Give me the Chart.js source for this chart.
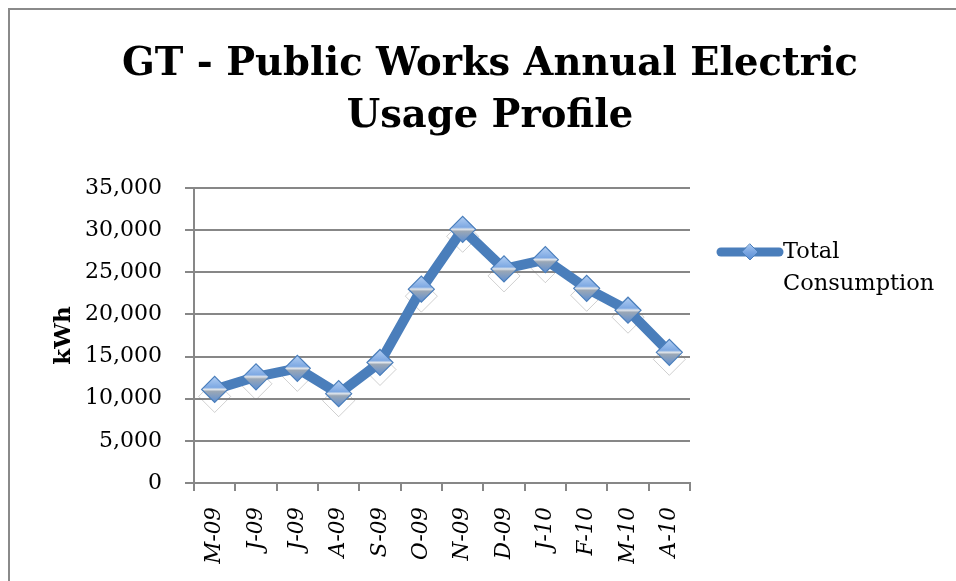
<!DOCTYPE html>
<html>
<head>
<meta charset="utf-8">
<script src="https://cdn.jsdelivr.net/npm/chart.js@4.4.0/dist/chart.umd.min.js"></script>
<style>
  html, body { margin: 0; padding: 0; background: #ffffff; }
  #wrap { position: relative; width: 956px; height: 581px; overflow: hidden; }
  canvas { display: block; }
</style>
</head>
<body>
<div id="wrap"><canvas id="c" width="956" height="581"></canvas></div>
<script>
const categories = ['M-09','J-09','J-09','A-09','S-09','O-09','N-09','D-09','J-10','F-10','M-10','A-10'];
const consumption = [11100, 12600, 13600, 10600, 14300, 23000, 30100, 25400, 26500, 23100, 20500, 15500];
const seriesName = ['Total', 'Consumption'];
const titleLines = ['GT - Public Works Annual Electric', 'Usage Profile'];
const yAxisTitle = 'kWh';

const LINE_BLUE = '#4a7ebb';
const GRID_GRAY = '#878787';

const frameTitleLegend = {
  id: 'frameTitleLegend',
  beforeDraw(chart) {
    const ctx = chart.ctx;
    ctx.save();
    ctx.fillStyle = '#ffffff';
    ctx.fillRect(0, 0, chart.width, chart.height);
    ctx.strokeStyle = '#8a8a8a';
    ctx.lineWidth = 2;
    ctx.strokeRect(9, 9, chart.width + 20, chart.height + 20);
    ctx.restore();
  },
  beforeDatasetsDraw(chart) {
    const ctx = chart.ctx;
    const meta = chart.getDatasetMeta(0);
    ctx.save();
    ctx.strokeStyle = 'rgba(120,120,120,0.35)';
    ctx.lineWidth = 1;
    meta.data.forEach(p => {
      const x = p.x, y = p.y + 7, r = 16;
      ctx.beginPath();
      ctx.moveTo(x, y - r); ctx.lineTo(x + r, y); ctx.lineTo(x, y + r); ctx.lineTo(x - r, y); ctx.closePath();
      ctx.stroke();
    });
    ctx.restore();
  },
  afterDraw(chart) {
    const ctx = chart.ctx;
    const a = chart.chartArea;
    ctx.save();
    ctx.fillStyle = '#000000';
    ctx.font = 'bold 40px "DejaVu Serif"';
    ctx.textAlign = 'center';
    ctx.textBaseline = 'alphabetic';
    const w0 = ctx.measureText(titleLines[0]).width;
    const sx = 736 / w0;
    const cx0 = 490;
    [75, 127].forEach((by, i) => {
      ctx.save();
      ctx.translate(cx0, by);
      ctx.scale(sx, 1);
      ctx.fillText(titleLines[i], 0, 0);
      ctx.restore();
    });
    ctx.restore();

    const x0 = a.right + 31, x1 = a.right + 89, y = a.top + 64;
    ctx.save();
    ctx.strokeStyle = LINE_BLUE;
    ctx.lineWidth = 9;
    ctx.lineCap = 'round';
    ctx.beginPath(); ctx.moveTo(x0, y); ctx.lineTo(x1, y); ctx.stroke();
    const cx = (x0 + x1) / 2, r = 8;
    const g = ctx.createLinearGradient(0, y - r, 0, y + r);
    g.addColorStop(0, '#a9c8f0'); g.addColorStop(0.5, '#7aa6e2'); g.addColorStop(1, '#5b8fd4');
    ctx.fillStyle = g;
    ctx.beginPath();
    ctx.moveTo(cx, y - r); ctx.lineTo(cx + r, y); ctx.lineTo(cx, y + r); ctx.lineTo(cx - r, y); ctx.closePath();
    ctx.fill();
    ctx.lineWidth = 1; ctx.strokeStyle = LINE_BLUE; ctx.stroke();
    ctx.fillStyle = '#000000';
    ctx.font = '22.5px "DejaVu Serif"';
    ctx.textBaseline = 'middle';
    ctx.textAlign = 'left';
    ctx.fillText(seriesName[0], x1 + 4, y);
    ctx.fillText(seriesName[1], x1 + 4, y + 32);
    ctx.restore();
  }
};

function markerFill(context) {
  const chart = context.chart;
  const el = context.element;
  if (!el || el.y === undefined || isNaN(el.y)) return '#7aa6e2';
  const g = chart.ctx.createLinearGradient(0, el.y - 13, 0, el.y + 13);
  g.addColorStop(0, '#b3cff3');
  g.addColorStop(0.42, '#7ea9e3');
  g.addColorStop(0.5, '#dfe4ea');
  g.addColorStop(0.58, '#9aa7b6');
  g.addColorStop(1, '#5d8fd3');
  return g;
}

new Chart(document.getElementById('c'), {
  type: 'line',
  data: {
    labels: categories,
    datasets: [{
      label: seriesName.join(' '),
      data: consumption,
      borderColor: LINE_BLUE,
      borderWidth: 10,
      tension: 0,
      borderJoinStyle: 'round',
      borderCapStyle: 'round',
      pointStyle: 'rectRot',
      pointRadius: 13,
      pointHoverRadius: 13,
      pointBorderWidth: 1.2,
      pointBorderColor: LINE_BLUE,
      pointBackgroundColor: markerFill
    }]
  },
  plugins: [frameTitleLegend],
  options: {
    responsive: false,
    animation: false,
    events: [],
    layout: { padding: { left: 50, right: 266, top: 188, bottom: 0 } },
    plugins: {
      legend: { display: false },
      tooltip: { enabled: false },
      title: { display: false }
    },
    scales: {
      x: {
        offset: true,
        grid: { display: true, offset: true, drawOnChartArea: false, drawTicks: true, tickLength: 8, color: GRID_GRAY, lineWidth: 2 },
        border: { display: true, color: GRID_GRAY, width: 2 },
        ticks: {
          color: '#000000',
          minRotation: 90, maxRotation: 90,
          autoSkip: false,
          padding: 16,
          font: { family: '"DejaVu Serif"', size: 21.5, style: 'italic' }
        },
        afterFit(scale) { scale.height = 98; }
      },
      y: {
        min: 0, max: 35000,
        ticks: {
          stepSize: 5000,
          color: '#000000',
          padding: 23,
          font: { family: '"DejaVu Serif"', size: 22 },
          callback: v => v.toLocaleString('en-US')
        },
        grid: { color: GRID_GRAY, lineWidth: 2, drawTicks: true, tickLength: 9 },
        border: { display: true, color: GRID_GRAY, width: 2 },
        title: {
          display: true,
          text: yAxisTitle,
          color: '#000000',
          font: { family: '"DejaVu Serif"', size: 23, weight: 'bold' },
          padding: { top: 0, bottom: 0 }
        },
        afterFit(scale) { scale.width = 144; }
      }
    }
  }
});
</script>
</body>
</html>
